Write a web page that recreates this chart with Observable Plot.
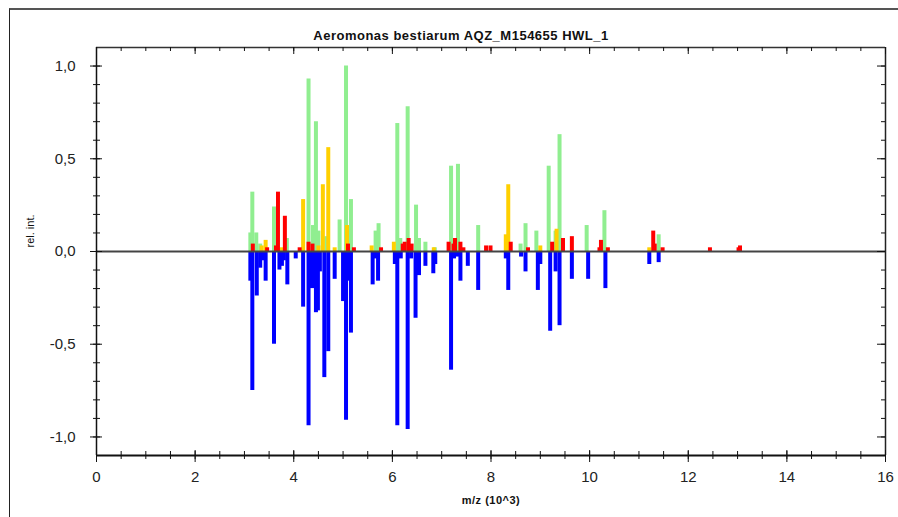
<!DOCTYPE html>
<html>
<head>
<meta charset="utf-8">
<script src="https://cdn.jsdelivr.net/npm/d3@7"></script>
<script src="https://cdn.jsdelivr.net/npm/@observablehq/plot@0.6"></script>
<style>
  html, body { margin: 0; padding: 0; background: #fff; }
  #wrap { position: relative; width: 898px; height: 517px; overflow: hidden; }
  #border { position: absolute; left: 9px; top: 8px; width: 900px; height: 520px;
            border-top: 2px solid #555; border-left: 1px solid #222; pointer-events: none; }
  #chart { position: absolute; left: 0; top: 0; }
</style>
</head>
<body>
<div id="wrap"><div id="border"></div><div id="chart"></div></div>
<script>
const title = "Aeromonas bestiarum AQZ_M154655 HWL_1";
const xTitle = "m/z (10^3)";
const yTitle = "rel. int.";

const xMajor = [0, 2, 4, 6, 8, 10, 12, 14, 16];
const xMinor = d3.range(0, 33).map(i => i / 2);
const yMajor = [-1, -0.5, 0, 0.5, 1];
const yMinor = d3.range(-10, 11).map(i => i / 10);

// matched peaks (green)
const greenMz  = [3.12, 3.16, 3.24, 3.32, 3.60, 3.86, 4.30, 4.39, 4.45, 4.50, 4.66, 4.93, 5.06, 5.16, 5.66, 5.72, 6.10, 6.16, 6.31, 6.48, 6.54, 6.67, 6.86, 7.19, 7.33, 7.74, 8.60, 8.70, 8.92, 9.17, 9.31, 9.39, 9.94, 10.30, 11.40];
const greenVal = [0.10, 0.32, 0.10, 0.04, 0.24, 0.07, 0.93, 0.14, 0.70, 0.11, 0.08, 0.17, 1.00, 0.28, 0.11, 0.15, 0.69, 0.07, 0.78, 0.25, 0.07, 0.05, 0.02, 0.46, 0.47, 0.14, 0.04, 0.15, 0.11, 0.46, 0.11, 0.63, 0.14, 0.22, 0.09];

// partially matched peaks (yellow)
const yellowMz  = [3.35, 3.43, 3.76, 4.19, 4.50, 4.59, 4.70, 4.83, 5.08, 5.58, 6.03, 6.84, 8.30, 8.35, 9.00, 9.33, 11.21];
const yellowVal = [0.03, 0.06, 0.02, 0.28, 0.03, 0.36, 0.56, 0.02, 0.14, 0.03, 0.05, 0.02, 0.09, 0.36, 0.03, 0.12, 0.02];

// unmatched peaks (red)
const redMz  = [3.17, 3.46, 3.64, 3.68, 3.82, 4.12, 4.30, 4.38, 5.10, 5.22, 5.77, 6.21, 6.25, 6.33, 6.39, 7.14, 7.24, 7.27, 7.38, 7.44, 7.90, 7.99, 8.40, 8.75, 9.24, 9.46, 9.64, 10.20, 10.23, 10.37, 11.29, 11.32, 11.48, 12.44, 13.02, 13.05];
const redVal = [0.04, 0.02, 0.03, 0.32, 0.19, 0.02, 0.05, 0.04, 0.04, 0.02, 0.02, 0.04, 0.05, 0.07, 0.04, 0.05, 0.04, 0.07, 0.05, 0.02, 0.03, 0.03, 0.05, 0.02, 0.05, 0.07, 0.08, 0.02, 0.06, 0.02, 0.11, 0.04, 0.02, 0.02, 0.02, 0.03];

// reference spectrum (blue, mirrored)
const blueMz  = [3.12, 3.16, 3.25, 3.32, 3.38, 3.43, 3.60, 3.71, 3.76, 3.80, 3.87, 4.04, 4.19, 4.30, 4.34, 4.37, 4.45, 4.49, 4.53, 4.62, 4.70, 4.83, 5.00, 5.06, 5.10, 5.16, 5.60, 5.65, 5.71, 6.05, 6.10, 6.17, 6.31, 6.38, 6.47, 6.54, 6.67, 6.83, 6.87, 7.19, 7.25, 7.31, 7.38, 7.53, 7.74, 8.30, 8.35, 8.61, 8.70, 8.95, 9.00, 9.20, 9.31, 9.39, 9.64, 9.97, 10.32, 11.21, 11.40];
const blueVal = [-0.16, -0.75, -0.24, -0.09, -0.05, -0.16, -0.50, -0.10, -0.08, -0.05, -0.18, -0.04, -0.30, -0.94, -0.06, -0.20, -0.33, -0.32, -0.11, -0.68, -0.54, -0.15, -0.27, -0.91, -0.16, -0.44, -0.18, -0.04, -0.16, -0.07, -0.94, -0.04, -0.96, -0.04, -0.36, -0.13, -0.08, -0.12, -0.07, -0.64, -0.04, -0.03, -0.16, -0.08, -0.21, -0.04, -0.21, -0.03, -0.11, -0.21, -0.07, -0.43, -0.11, -0.40, -0.15, -0.15, -0.20, -0.07, -0.06];

const toRows = (mz, v) => mz.map((m, i) => ({mz: m, v: v[i]}));
const green = toRows(greenMz, greenVal);
const yellow = toRows(yellowMz, yellowVal);
const red = toRows(redMz, redVal);
const blue = toRows(blueMz, blueVal);

const fmt = d => d.toFixed(1).replace(".", ",");
const barW = 4;

const chart = Plot.plot({
  width: 898,
  height: 517,
  marginLeft: 96,
  marginRight: 13,
  marginTop: 47,
  marginBottom: 62,
  style: {fontFamily: "'Liberation Sans', Arial, sans-serif", background: "transparent"},
  x: {domain: [0, 16], axis: null},
  y: {domain: [-1.1, 1.1], axis: null},
  marks: [
    // bars
    Plot.ruleX(blue, {x: "mz", y1: 0, y2: "v", stroke: "#0000ff", strokeWidth: barW}),
    Plot.ruleX(green, {x: "mz", y1: 0, y2: "v", stroke: "#90ee90", strokeWidth: barW}),
    Plot.ruleX(yellow, {x: "mz", y1: 0, y2: "v", stroke: "#ffd000", strokeWidth: barW}),
    Plot.ruleX(red, {x: "mz", y1: 0, y2: "v", stroke: "#ff0000", strokeWidth: barW}),
    // zero line
    Plot.ruleY([0], {stroke: "#444", strokeWidth: 2}),
    // frame
    Plot.ruleY([1.1], {stroke: "#333", strokeWidth: 1.5}),
    Plot.ruleX([16], {stroke: "#222", strokeWidth: 1.5}),
    Plot.ruleX([0], {stroke: "#111", strokeWidth: 1.5}),
    Plot.ruleY([-1.1], {stroke: "#111", strokeWidth: 2}),
    // left ticks (crossing)
    Plot.ruleY(yMinor, {y: d => d, x1: 0, x2: 0, insetLeft: -3, insetRight: -4, stroke: "#111"}),
    Plot.ruleY(yMajor, {y: d => d, x1: 0, x2: 0, insetLeft: -6, insetRight: -6, stroke: "#111"}),
    // right ticks (inward)
    Plot.ruleY(yMinor, {y: d => d, x1: 16, x2: 16, insetLeft: -4, insetRight: 0, stroke: "#111"}),
    Plot.ruleY(yMajor, {y: d => d, x1: 16, x2: 16, insetLeft: -8, insetRight: 0, stroke: "#111"}),
    // bottom ticks (crossing)
    Plot.ruleX(xMinor, {x: d => d, y1: -1.1, y2: -1.1, insetTop: -4, insetBottom: -4, stroke: "#111"}),
    Plot.ruleX(xMajor, {x: d => d, y1: -1.1, y2: -1.1, insetTop: -5, insetBottom: -7, stroke: "#111"}),
    // top ticks (inward)
    Plot.ruleX(xMinor, {x: d => d, y1: 1.1, y2: 1.1, insetTop: 0, insetBottom: -4, stroke: "#111"}),
    Plot.ruleX(xMajor, {x: d => d, y1: 1.1, y2: 1.1, insetTop: 0, insetBottom: -7, stroke: "#111"}),
    // tick labels
    Plot.axisY(yMajor, {tickSize: 0, tickPadding: 21, tickFormat: fmt, fontSize: 15, label: null, fill: "#222"}),
    Plot.axisX(xMajor, {tickSize: 0, tickPadding: 16, tickFormat: d => String(d), fontSize: 15, label: null, fill: "#222"}),
    // titles
    Plot.text([title], {frameAnchor: "top", dx: -30, dy: -17, fontSize: 13, fontWeight: "bold", fill: "#111"}),
    Plot.text([xTitle], {frameAnchor: "bottom", dy: 48, fontSize: 11, fontWeight: "bold", fill: "#111"}),
    Plot.text([yTitle], {frameAnchor: "left", dx: -66, dy: -4, rotate: -90, fontSize: 11, fill: "#111"})
  ]
});
d3.select(chart).selectAll("text")
  .filter(function() { return this.textContent === title || this.textContent === xTitle; })
  .attr("letter-spacing", "0.5px");
document.getElementById("chart").appendChild(chart);
</script>
</body>
</html>
